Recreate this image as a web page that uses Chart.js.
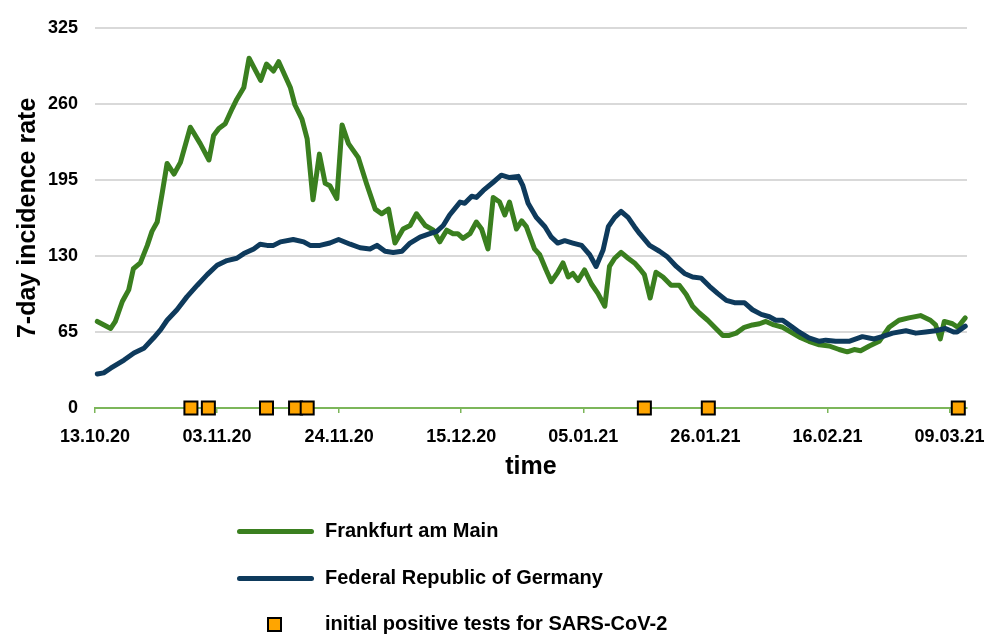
<!DOCTYPE html>
<html><head><meta charset="utf-8">
<script src="https://cdn.jsdelivr.net/npm/chart.js@4.4.1/dist/chart.umd.min.js"></script>
<style>
html,body{margin:0;padding:0;background:#fff;}
#wrap{position:relative;width:990px;height:635px;overflow:hidden;}
canvas{position:absolute;left:0;top:0;}
.lg{position:absolute;font-family:'Liberation Sans',Arial,sans-serif;font-weight:bold;font-size:20px;line-height:24px;color:#000;white-space:nowrap;}
.ln{position:absolute;height:5px;border-radius:3px;}
.sq{position:absolute;width:11px;height:11px;border:2px solid #000;background:#ffa500;}
</style></head><body>
<div id="wrap"><canvas id="c" width="990" height="635"></canvas><div id="legend"></div></div>
<script>
// ---- data ----
const tickLabels = ['13.10.20','03.11.20','24.11.20','15.12.20','05.01.21','26.01.21','16.02.21','09.03.21'];
const tickDays = [0,21,42,63,84,105,126,147];
const seriesNames = ['Frankfurt am Main','Federal Republic of Germany','initial positive tests for SARS-CoV-2'];

const frankfurtDays = [0.4,2.7,3.5,4.7,5.8,6.6,7.8,9.0,9.8,10.7,11.6,12.4,13.6,14.7,16.4,18.1,19.6,20.4,21.3,22.4,23.6,24.4,25.6,26.5,28.5,29.5,30.7,31.6,33.6,34.4,35.6,36.5,37.5,38.6,39.6,40.4,41.6,42.5,43.6,45.3,46.7,48.2,49.3,50.5,51.6,53.0,54.2,55.3,56.8,58.2,59.3,60.5,61.6,62.4,63.3,64.5,65.6,66.5,67.6,68.5,69.6,70.5,71.3,72.5,73.4,74.2,75.6,76.5,77.6,78.5,79.6,80.5,81.4,82.2,83.1,84.2,85.4,86.5,87.7,88.5,89.4,90.5,91.7,92.8,93.7,94.5,95.5,96.5,97.7,99.1,100.5,101.7,102.8,104.0,105.4,106.8,108.0,109.1,110.3,111.7,113.1,114.3,115.4,116.8,118.3,120.0,121.4,122.8,124.6,126.3,128.0,129.4,130.6,131.7,133.2,134.9,136.6,138.3,140.0,142.0,143.7,144.6,145.4,146.1,147.5,148.4,149.7];
const frankfurtValues = [74,68,74,91,101,119,124,139,151,159,185,209,200,210,240,226,212,233,239,243,256,264,274,299,280,294,288,296,274,259,247,230,178,217,192,190,179,242,226,214,192,170,166,170,141,153,156,166,156,152,142,152,149,149,145,149,159,153,136,180,176,165,176,153,160,155,136,131,118,108,116,124,112,115,109,118,106,98,87,121,128,133,128,124,119,114,94,116,112,105,105,97,87,81,75,68,62,62,64,69,71,72,74,71,69,64,60,57,54,53,50,48,50,49,53,57,69,75,77,79,75,71,59,74,72,69,77];

const germanyDays = [0.4,1.5,2.7,5.0,6.7,8.4,10.1,11.3,12.4,14.1,15.8,17.6,19.3,21.0,22.7,24.4,25.6,27.3,28.4,29.6,30.7,31.9,34.1,35.9,37.0,38.7,40.4,41.9,43.9,45.6,47.3,48.5,49.9,51.3,52.8,54.2,55.9,57.6,58.8,59.9,61.0,62.8,63.6,64.8,65.6,66.8,68.5,69.9,71.3,72.8,73.6,74.5,75.9,77.4,78.5,79.6,80.8,82.2,83.7,85.1,86.2,87.4,88.3,89.4,90.5,91.7,92.8,93.7,95.4,97.1,98.5,100.0,101.4,102.8,104.3,105.7,107.1,108.6,110.0,111.7,113.1,114.6,116.0,117.1,118.3,119.7,121.1,122.8,124.6,125.7,127.4,129.7,132.0,134.0,135.4,137.2,139.5,141.2,142.9,144.6,146.3,147.7,148.3,149.7];
const germanyValues = [29,30,34,41,47,51,60,67,75,84,95,105,114,122,126,128,132,136,140,139,139,142,144,142,139,139,141,144,140,137,136,139,134,133,134,141,146,149,151,156,165,176,175,181,180,186,193,199,197,198,190,175,163,155,146,141,143,141,139,131,121,135,155,163,168,163,155,149,139,134,129,121,115,112,111,104,98,92,90,90,84,80,78,75,75,70,65,60,57,58,57,57,61,59,61,64,66,64,65,66,68,65,65,70];

const testDays = [16.5,19.5,29.5,34.5,36.5,94.5,105.5,148.5];
const testValues = [0,0,0,0,0,0,0,0];

// ---- styles ----
const FONT = "'Liberation Sans', Arial, sans-serif";
const GREEN = '#3a7f1f';
const BLUE = '#0e3a5c';
const ORANGE = '#ffa500';
const AXISGREEN = '#7cb65a';

const toPts = (xs, ys) => xs.map((x, i) => ({x: x, y: ys[i]}));

new Chart(document.getElementById('c'), {
  type: 'line',
  data: {
    datasets: [
      {label: seriesNames[2], data: toPts(testDays, testValues), showLine: false,
       pointStyle: 'rect', pointRadius: 9.2, pointHoverRadius: 9.2,
       pointBackgroundColor: ORANGE, pointBorderColor: '#000', pointBorderWidth: 2,
       order: 0, clip: false},
      {label: seriesNames[1], data: toPts(germanyDays, germanyValues), borderColor: BLUE,
       borderWidth: 5, pointRadius: 0, tension: 0, order: 1,
       borderJoinStyle: 'round', borderCapStyle: 'round', clip: false},
      {label: seriesNames[0], data: toPts(frankfurtDays, frankfurtValues), borderColor: GREEN,
       borderWidth: 5, pointRadius: 0, tension: 0, order: 2,
       borderJoinStyle: 'round', borderCapStyle: 'round', clip: false}
    ]
  },
  options: {
    responsive: false, animation: false, devicePixelRatio: 1,
    layout: {padding: {top: 27, right: 23, bottom: 153, left: 0}},
    plugins: {legend: {display: false}, tooltip: {enabled: false}},
    scales: {
      x: {
        type: 'linear', min: 0, max: 150,
        afterBuildTicks: s => { s.ticks = tickDays.map(v => ({value: v})); },
        afterFit: s => { s.height = 74; s.paddingLeft = 0; s.paddingRight = 0; },
        ticks: {autoSkip: false, maxRotation: 0, minRotation: 0, padding: 13, color: '#000',
          font: {family: FONT, size: 18, weight: 'bold'},
          callback: v => { const i = tickDays.indexOf(v); return i >= 0 ? tickLabels[i] : ''; }},
        grid: {drawOnChartArea: false, drawTicks: true, tickLength: 5, color: AXISGREEN, lineWidth: 1.5},
        border: {display: true, color: AXISGREEN, width: 2},
        title: {display: true, text: 'time', color: '#000',
          font: {family: FONT, size: 25, weight: 'bold'}, padding: {top: 0, bottom: 0}}
      },
      y: {
        min: 0, max: 325,
        afterFit: s => { s.width = 95; },
        ticks: {stepSize: 65, padding: 17, color: '#000', font: {family: FONT, size: 18, weight: 'bold'}},
        grid: {drawTicks: false, lineWidth: 2,
          color: c => (c.tick && c.tick.value === 0) ? 'rgba(0,0,0,0)' : '#d9d9d9'},
        border: {display: false},
        title: {display: true, text: '7-day incidence rate', color: '#000',
          font: {family: FONT, size: 25, weight: 'bold'}, padding: {top: 13, bottom: 0}}
      }
    }
  }
});

// ---- HTML legend ----
const lg = document.getElementById('legend');
const items = [
  {kind: 'line', color: GREEN, cy: 531},
  {kind: 'line', color: BLUE, cy: 578},
  {kind: 'square', cy: 624}
];
items.forEach((it, i) => {
  if (it.kind === 'line') {
    const d = document.createElement('div');
    d.className = 'ln';
    d.style.left = '237px'; d.style.width = '77px';
    d.style.top = (it.cy - 2.5) + 'px'; d.style.background = it.color;
    lg.appendChild(d);
  } else {
    const d = document.createElement('div');
    d.className = 'sq';
    d.style.left = '267px'; d.style.top = (it.cy - 7.5) + 'px';
    lg.appendChild(d);
  }
  const t = document.createElement('div');
  t.className = 'lg';
  t.style.left = '325px'; t.style.top = (it.cy - 13) + 'px';
  t.textContent = seriesNames[i];
  lg.appendChild(t);
});
</script>
</body></html>
